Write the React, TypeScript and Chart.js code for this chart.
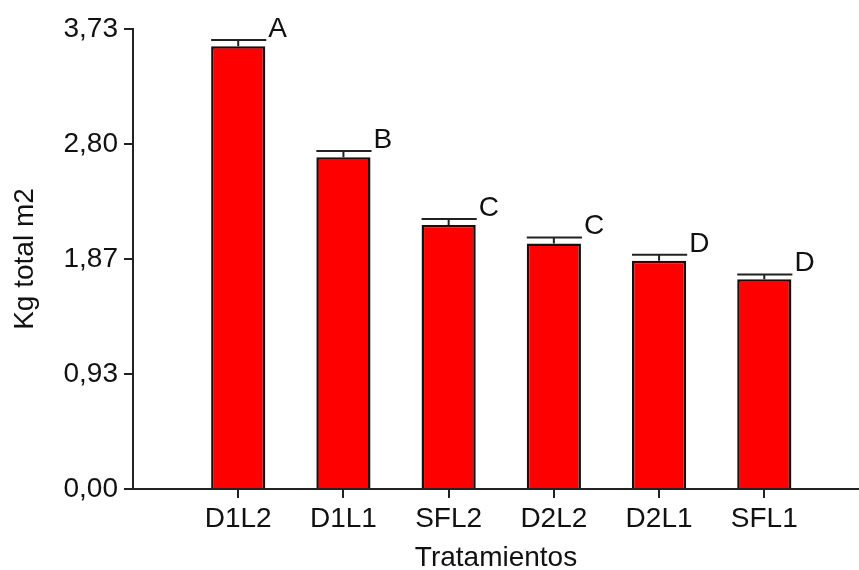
import { useEffect, useRef } from "react";
import { Chart, registerables } from "chart.js";

Chart.register(...registerables);

// Treatments, mean total kg per m2, standard error and significance groups
const categories = ["D1L2", "D1L1", "SFL2", "D2L2", "D2L1", "SFL1"];
const means = [3.59, 2.69, 2.14, 1.99, 1.85, 1.7];
const errors = [0.05, 0.05, 0.05, 0.05, 0.05, 0.04];
const groups = ["A", "B", "C", "C", "D", "D"];

// Value axis ticks
const yTickValues = [0, 0.9325, 1.865, 2.7975, 3.73];
const yTickLabels = ["0,00", "0,93", "1,87", "2,80", "3,73"];

const FAMILY = '"Liberation Sans", Arial, sans-serif';
const TEXT = "#111";
const LINE = "#222";

// Error bars with caps plus the group letter next to each cap
const errorBarPlugin = {
  id: "errorBars",
  afterDatasetsDraw(chart: any) {
    const { ctx } = chart;
    const yScale = chart.scales.y;
    const meta = chart.getDatasetMeta(0);
    ctx.save();
    meta.data.forEach((bar: any, i: number) => {
      const half = bar.width / 2;
      const yTop = yScale.getPixelForValue(means[i]);
      const yCap = yScale.getPixelForValue(means[i] + errors[i]);
      ctx.strokeStyle = LINE;
      ctx.lineWidth = 2;
      ctx.beginPath();
      ctx.moveTo(bar.x, yTop);
      ctx.lineTo(bar.x, yCap);
      ctx.moveTo(bar.x - half, yCap);
      ctx.lineTo(bar.x + half + 1, yCap);
      ctx.stroke();

      ctx.fillStyle = TEXT;
      ctx.font = `28px ${FAMILY}`;
      ctx.textAlign = "left";
      ctx.textBaseline = "alphabetic";
      ctx.fillText(groups[i], bar.x + half + 3, yCap - 3);
    });
    ctx.restore();
  },
};

export default function App() {
  const canvasRef = useRef<HTMLCanvasElement | null>(null);

  useEffect(() => {
    const canvas = canvasRef.current;
    if (!canvas) return;
    const chart = new Chart(canvas, {
      type: "bar",
      data: {
        datasets: [
          {
            data: categories.map((_, i) => ({ x: i + 1, y: means[i] })),
            backgroundColor: "#ff0000",
            borderColor: "#111",
            borderWidth: 2.5,
            barPercentage: 0.515,
            categoryPercentage: 1,
          },
        ],
      },
      options: {
        responsive: false,
        animation: false,
        layout: { padding: { top: 29, left: 0, right: 0, bottom: 0 } },
        plugins: {
          legend: { display: false },
          tooltip: { enabled: false },
        },
        scales: {
          x: {
            type: "linear",
            min: 0,
            max: 6.9,
            offset: false,
            afterBuildTicks: (s: any) => {
              s.ticks = categories.map((_, i) => ({ value: i + 1 }));
            },
            afterFit: (s: any) => {
              s.height = 81;
            },
            ticks: {
              callback: (v: any) => categories[Number(v) - 1] ?? "",
              font: { family: FAMILY, size: 28 },
              color: TEXT,
              padding: 4,
              maxRotation: 0,
              autoSkip: false,
            },
            grid: {
              display: true,
              offset: false,
              drawOnChartArea: false,
              drawTicks: true,
              tickLength: 9,
              color: LINE,
              lineWidth: 2,
            },
            border: { display: true, color: LINE, width: 2 },
            title: {
              display: true,
              text: "Tratamientos",
              color: TEXT,
              font: { family: FAMILY, size: 28, lineHeight: 0.85 },
              padding: { top: 0, bottom: 0 },
            },
          },
          y: {
            min: 0,
            max: 3.73,
            afterBuildTicks: (s: any) => {
              s.ticks = yTickValues.map((v) => ({ value: v }));
            },
            afterFit: (s: any) => {
              s.width = 133;
            },
            ticks: {
              callback: (_v: any, i: number) => yTickLabels[i],
              font: { family: FAMILY, size: 28 },
              color: TEXT,
              padding: 6,
            },
            grid: {
              display: true,
              drawOnChartArea: false,
              drawTicks: true,
              tickLength: 9,
              color: LINE,
              lineWidth: 2,
            },
            border: { display: true, color: LINE, width: 2 },
            title: {
              display: true,
              text: "Kg total m2",
              color: TEXT,
              font: { family: FAMILY, size: 28, lineHeight: 1 },
              padding: { top: 11, bottom: 0 },
            },
          },
        },
      },
      plugins: [errorBarPlugin],
    });
    return () => chart.destroy();
  }, []);

  return (
    <div style={{ position: "absolute", left: 0, top: 0 }}>
      <canvas ref={canvasRef} width={859} height={570} style={{ display: "block" }} />
    </div>
  );
}
